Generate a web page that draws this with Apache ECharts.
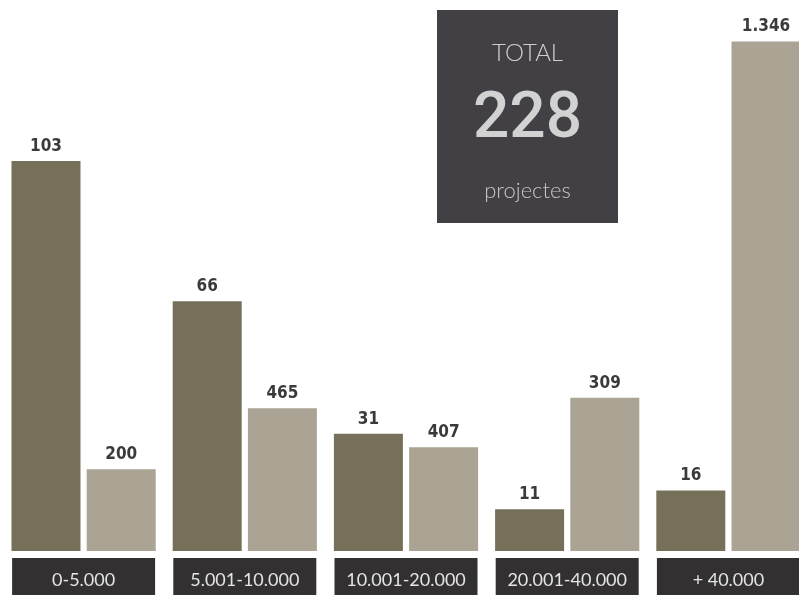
<!DOCTYPE html>
<html>
<head>
<meta charset="utf-8">
<script src="https://cdn.jsdelivr.net/npm/echarts@6/dist/echarts.min.js"></script>
<style>html,body{margin:0;padding:0;background:#fff;}#c{width:799px;height:595px;}</style>
</head>
<body>
<div id="c"></div>
<script>
// Data
const categories = ['0-5.000', '5.001-10.000', '10.001-20.000', '20.001-40.000', '+ 40.000'];
const projectCounts = [103, 66, 31, 11, 16];
// light bars: heights as drawn in the picture (read on a 0-1400 scale) and their printed labels
const lightBarValues = [216, 377, 274, 405, 1346];
const lightLabels = ['200', '465', '407', '309', '1.346'];
const totalTitle = 'TOTAL';
const totalValue = '228';
const totalUnit = 'projectes';

const chart = echarts.init(document.getElementById('c'), null, {renderer: 'canvas'});
const labelFont = {
  fontFamily: '"DejaVu Sans Condensed", "Liberation Sans Narrow", sans-serif',
  fontSize: 17, fontWeight: 'bold', color: '#3a3a3a'
};
chart.setOption({
  backgroundColor: '#ffffff',
  animation: false,
  grid: {left: 3, right: -10, top: 21, bottom: 44, containLabel: false, outerBoundsMode: 'none'},
  xAxis: {
    type: 'category', data: categories,
    axisLine: {show: false}, axisTick: {show: false},
    axisLabel: {
      interval: 0, margin: 7,
      color: '#e4e4e4', fontFamily: 'Lato, sans-serif', fontSize: 18,
      backgroundColor: '#323031', width: 143, height: 44, lineHeight: 44,
      align: 'center', verticalAlign: 'top'
    }
  },
  yAxis: [
    {type: 'value', min: 0, max: 140, show: false, splitLine: {show: false}},
    {type: 'value', min: 0, max: 1400, show: false, splitLine: {show: false}}
  ],
  series: [
    {
      type: 'bar', yAxisIndex: 0, data: projectCounts,
      barWidth: 69, barGap: '9%', barCategoryGap: '11.7%',
      itemStyle: {color: '#777058'},
      label: Object.assign({show: true, position: 'top', distance: 6}, labelFont)
    },
    {
      type: 'bar', yAxisIndex: 1, data: lightBarValues,
      barWidth: 69, barGap: '9%',
      itemStyle: {color: '#aba495'},
      label: Object.assign({show: true, position: 'top', distance: 6,
        formatter: p => lightLabels[p.dataIndex]}, labelFont)
    }
  ],
  graphic: [{
    type: 'group', left: 437, top: 10,
    children: [
      {type: 'rect', shape: {x: 0, y: 0, width: 181, height: 213}, style: {fill: '#434045'}},
      {type: 'text', x: 90.5, y: 43, style: {text: totalTitle, fill: '#cfcfcf', font: '300 24px Lato, sans-serif', textAlign: 'center', textVerticalAlign: 'middle'}},
      {type: 'text', x: 90.5, y: 111, style: {text: totalValue, fill: '#d2d2d2', font: '500 64px Roboto, sans-serif', textAlign: 'center', textVerticalAlign: 'middle'}},
      {type: 'text', x: 90.5, y: 181, style: {text: totalUnit, fill: '#c6c6c6', font: '300 22px Lato, sans-serif', textAlign: 'center', textVerticalAlign: 'middle'}}
    ]
  }]
});
</script>
</body>
</html>
